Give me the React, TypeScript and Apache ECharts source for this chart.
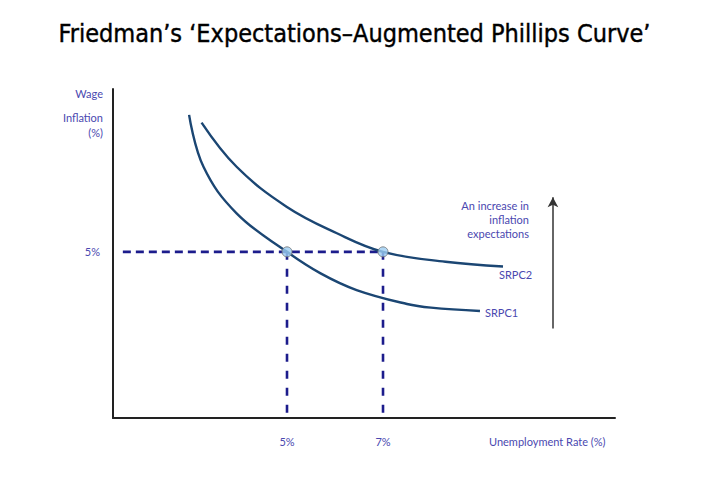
import React, { useEffect, useRef } from "react";
import * as echarts from "echarts";

const TITLE = "Friedman’s ‘Expectations–Augmented Phillips Curve’";
const srpc1: [number, number][] = [
  [2.96, 9.12], [3.26, 7.56], [3.95, 6.16], [5.0, 5.0], [5.69, 4.36], [6.45, 3.85], [7.5, 3.43], [8.0, 3.32], [9.02, 3.22],
];
const srpc2: [number, number][] = [
  [3.22, 8.89], [3.95, 7.56], [4.99, 6.36], [6.04, 5.56], [7.0, 5.0], [8.3, 4.7], [9.5, 4.56],
];
const equilibrium: [number, number][] = [[5, 5], [7, 5]];
const xTicks = [5, 7];
const yTicks = [5];
const arrowX = 10.54;
const arrowFrom = 2.69;
const arrowTo = 6.64;

const TEXT_COLOR = "#4a48b0";
const FONT = "Lato, 'Open Sans', sans-serif";
const FS = 11;

export default function App() {
  const ref = useRef<HTMLDivElement>(null);
  useEffect(() => {
    const chart = echarts.init(ref.current!, null, { renderer: "svg" });
    const dashStyle = (dash: number[]) => ({
      color: "#1c1c8c",
      width: 2.6,
      type: dash,
    });
    chart.setOption({
      animation: false,
      backgroundColor: "#ffffff",
      title: {
        text: TITLE,
        left: "center",
        top: 16,
        textStyle: {
          fontFamily: "'Liberation Sans Narrow', 'DejaVu Sans Condensed', sans-serif",
          fontSize: 25,
          fontWeight: "normal",
          color: "#000",
          textBorderColor: "#000",
          textBorderWidth: 0.4,
        },
      },
      grid: { left: 113, right: 94, top: 89, bottom: 63 },
      xAxis: {
        type: "value",
        min: 1.375,
        max: 11.833,
        axisLine: { show: true, onZero: false, lineStyle: { color: "#222", width: 2 } },
        axisTick: { show: false },
        splitLine: { show: false },
        axisLabel: {
          customValues: xTicks,
          formatter: (v: number) => v + "%",
          color: TEXT_COLOR,
          fontFamily: FONT,
          fontSize: FS,
          margin: 18,
        },
      },
      yAxis: {
        type: "value",
        min: 0,
        max: 9.9,
        axisLine: { show: true, onZero: false, lineStyle: { color: "#222", width: 2 } },
        axisTick: { show: false },
        splitLine: { show: false },
        axisLabel: {
          customValues: yTicks,
          formatter: (v: number) => v + "%",
          color: TEXT_COLOR,
          fontFamily: FONT,
          fontSize: FS,
          margin: 13,
        },
      },
      series: [
        {
          type: "line",
          data: [[1.58, 5], [7, 5]],
          symbol: "none",
          lineStyle: dashStyle([8, 5]),
          z: 2,
        },
        {
          type: "line",
          data: [[5, 5], [5, 0]],
          symbol: "none",
          lineStyle: dashStyle([8, 9]),
          z: 2,
        },
        {
          type: "line",
          data: [[7, 5], [7, 0]],
          symbol: "none",
          lineStyle: dashStyle([8, 9]),
          z: 2,
        },
        {
          type: "line",
          name: "SRPC1",
          data: srpc1,
          smooth: 0.4,
          symbol: "none",
          lineStyle: { color: "#1b4673", width: 2.4 },
          endLabel: {
            show: true,
            formatter: "SRPC1",
            color: TEXT_COLOR,
            fontFamily: FONT,
            fontSize: FS,
            distance: 5,
            offset: [0, 2],
          },
          z: 3,
        },
        {
          type: "line",
          name: "SRPC2",
          data: srpc2,
          smooth: 0.4,
          symbol: "none",
          lineStyle: { color: "#1b4673", width: 2.4 },
          endLabel: {
            show: true,
            formatter: "SRPC2",
            color: TEXT_COLOR,
            fontFamily: FONT,
            fontSize: FS,
            distance: 0,
            offset: [-4, 8],
          },
          z: 3,
        },
        {
          type: "scatter",
          data: equilibrium,
          symbol: "circle",
          symbolSize: 10,
          itemStyle: { color: "#9ccdf3", borderColor: "#707070", borderWidth: 1 },
          z: 5,
        },
        {
          type: "line",
          data: [],
          markLine: {
            silent: true,
            symbol: ["none", "arrow"],
            symbolSize: [8, 10],
            label: { show: false },
            lineStyle: { color: "#333", width: 1.5, type: "solid" },
            data: [[{ coord: [arrowX, arrowFrom] }, { coord: [arrowX, arrowTo] }]],
          },
        },
      ],
      graphic: [
        {
          type: "text",
          x: 103,
          y: 88,
          style: { text: "Wage", fill: TEXT_COLOR, font: `${FS}px ${FONT}`, align: "right", verticalAlign: "top" },
        },
        {
          type: "text",
          x: 103,
          y: 110,
          style: {
            text: "Inflation\n(%)",
            fill: TEXT_COLOR,
            font: `${FS}px ${FONT}`,
            align: "right",
            verticalAlign: "top",
            lineHeight: 15,
          },
        },
        {
          type: "text",
          x: 489,
          y: 436,
          style: { text: "Unemployment Rate (%)", fill: TEXT_COLOR, font: `${FS}px ${FONT}`, verticalAlign: "top" },
        },
        {
          type: "text",
          x: 529,
          y: 198,
          style: {
            text: "An increase in\ninflation\nexpectations",
            fill: TEXT_COLOR,
            font: `${FS}px ${FONT}`,
            align: "right",
            verticalAlign: "top",
            lineHeight: 14,
          },
        },
      ],
    });
    return () => chart.dispose();
  }, []);
  return <div ref={ref} style={{ width: 709, height: 481, position: "absolute", left: 0, top: 0 }} />;
}
